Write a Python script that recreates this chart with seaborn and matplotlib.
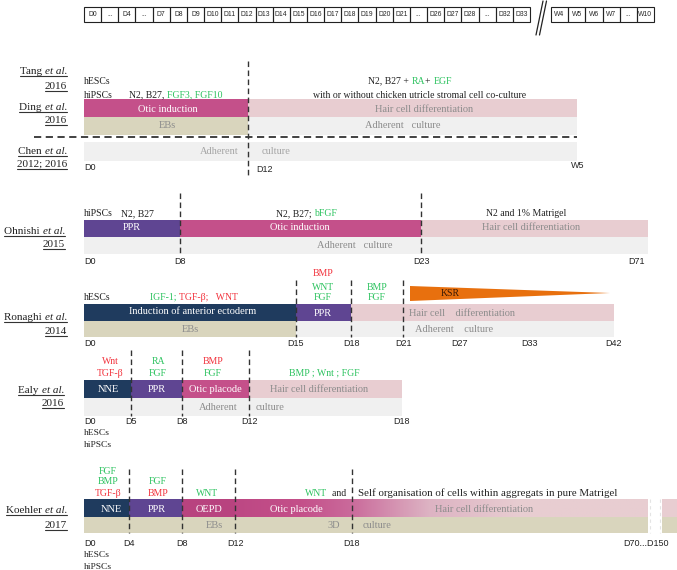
import numpy as np
import seaborn as sns
import matplotlib.pyplot as plt
from matplotlib.colors import LinearSegmentedColormap

sns.set_theme(style="white")
plt.rcParams['font.family'] = ['Liberation Serif', 'DejaVu Serif']

# ---- data ----
day_cells = ["D0", "...", "D4", "...", "D7", "D8", "D9", "D10", "D11", "D12", "D13",
             "D14", "D15", "D16", "D17", "D18", "D19", "D20", "D21", "...", "D26",
             "D27", "D28", "...", "D32", "D33"]
week_cells = ["W4", "W5", "W6", "W7", "...", "W10"]

# shared time axis position of every protocol's tick (diagram is not to scale)
tang_ticks = ["D0", "D12", "W5"]
tang_x = [84, 248, 577]
ding_top = ["Otic induction", "Hair cell differentiation"]
ding_bottom = ["EBs", "Adherent   culture"]

ohnishi_ticks = ["D0", "D8", "D23", "D71"]
ohnishi_x = [84, 180, 421, 648]
ohnishi_top = ["PPR", "Otic induction", "Hair cell differentiation"]

ronaghi_ticks = ["D0", "D15", "D18", "D21", "D27", "D33", "D42"]
ronaghi_x = [84, 296, 351, 403, 459, 529, 614]
ronaghi_top = ["Induction of anterior ectoderm", "PPR", "Hair cell    differentiation"]

ealy_ticks = ["D0", "D5", "D8", "D12", "D18"]
ealy_x = [84, 131, 182, 249, 402]
ealy_top = ["NNE", "PPR", "Otic placode", "Hair cell differentiation"]

koehler_ticks = ["D0", "D4", "D8", "D12", "D18", "D70...D150"]
koehler_x = [84, 129, 182, 235, 352, 677]
koehler_top = ["NNE", "PPR", "OEPD", "Otic placode", "Hair cell differentiation"]

NAVY = "#1F3B5E"
PURPLE = "#5F4592"
MAGENTA = "#C4508A"
OEPD = "#B8437F"
PINK = "#E8CDD1"
KHAKI = "#D9D5BD"
GREY = "#F0F0F0"
ORANGE = "#E8700E"
GREEN = "#2BC25E"
RED = "#F2323C"
TXT = "#8C8C8C"

fig = plt.figure(figsize=(6.77, 5.70), dpi=100)
ax = fig.add_axes([0, 0, 1, 1])
ax.set_xlim(0, 677)
ax.set_ylim(570, 0)
ax.axis('off')
renderer = fig.canvas.get_renderer()


def rich(x, y, parts, ha='left', size=7, va='center', underline=False):
    objs = []
    for s, c, st in parts:
        objs.append(ax.text(x, y, s, color=c, fontstyle=st, fontsize=size,
                            va=va, ha='left', zorder=5))
    widths = [t.get_window_extent(renderer).width for t in objs]
    total = sum(widths)
    start = {'left': x, 'center': x - total / 2, 'right': x - total}[ha]
    x0 = start
    for t, w in zip(objs, widths):
        t.set_x(start)
        start += w
    if underline:
        ax.plot([x0, x0 + total], [y + 1.8, y + 1.8], color='#333333', lw=0.8)


def author(name, year, y1, y2, right=67):
    rich(right, y1, [(name + " ", '#222222', 'normal'), ("et al.", '#222222', 'italic')],
         ha='right', size=8, va='baseline', underline=True)
    rich(right, y2, [(year, '#222222', 'normal')], ha='right', size=8,
         va='baseline', underline=True)


def seg(x0, x1, y0, y1, color, z=1):
    ax.barh((y0 + y1) / 2, x1 - x0, left=x0, height=y1 - y0, color=color,
            linewidth=0, zorder=z)


def label(x, y, s, color=TXT, size=7.5, ha='center'):
    ax.text(x, y, s, color=color, fontsize=size, ha=ha, va='center', zorder=6)


def dashes(xs, y0, y1):
    ax.vlines(xs, y0, y1, colors='#333333', linestyles=(0, (4, 2.5)), lw=1.0, zorder=7)


def ticks(labels, xs, y, has):
    for s, x, h in zip(labels, xs, has):
        ax.text(x, y, s, fontsize=6.5, family='Liberation Sans', color='#222222',
                ha=h, va='center')


# ---- header boxes ----
cw = (530 - 84) / len(day_cells)
ax.barh(np.full(len(day_cells), 14.5), cw, left=84 + cw * np.arange(len(day_cells)),
        height=15, fill=False, edgecolor='#222222', lw=0.8)
for i, s in enumerate(day_cells):
    ax.text(84 + cw * (i + 0.5), 15, s, fontsize=4.9, family='Liberation Sans',
            ha='center', va='center')
ww = (654 - 551) / len(week_cells)
ax.barh(np.full(len(week_cells), 14.5), ww, left=551 + ww * np.arange(len(week_cells)),
        height=15, fill=False, edgecolor='#222222', lw=0.8)
for i, s in enumerate(week_cells):
    ax.text(551 + ww * (i + 0.5), 15, s, fontsize=4.9, family='Liberation Sans',
            ha='center', va='center')
ax.plot([536, 543], [35, 1], color='#222222', lw=0.9)
ax.plot([539.5, 546.5], [35, 1], color='#222222', lw=0.9)

# ---- Tang / Ding / Chen ----
author("Tang", "2016", 74, 89)
author("Ding", "2016", 110, 123)
author("Chen", "2012; 2016", 154, 167)
rich(84, 81, [("hESCs", '#222222', 'normal')])
rich(84, 95, [("hiPSCs", '#222222', 'normal')])
rich(176, 95, [("N2, B27, ", '#222222', 'normal'), ("FGF3, FGF10", GREEN, 'normal')], ha='center')
rich(410, 81, [("N2, B27 + ", '#222222', 'normal'), ("RA", GREEN, 'normal'),
               ("+ ", '#222222', 'normal'), ("EGF", GREEN, 'normal')], ha='center')
rich(420, 95, [("with or without chicken utricle stromal cell co-culture", '#222222', 'normal')],
     ha='center')
seg(tang_x[0], tang_x[1], 99, 117, MAGENTA)
seg(tang_x[1], tang_x[2], 99, 117, PINK)
seg(tang_x[0], tang_x[1], 117, 135, KHAKI)
seg(tang_x[1], tang_x[2], 117, 135, GREY)
label(168, 109, ding_top[0], 'white')
label(424, 109, ding_top[1])
label(167, 126, ding_bottom[0])
label(403, 126, ding_bottom[1])
ax.hlines(137, 34, 577, colors='#333333', linestyles=(0, (4, 2.5)), lw=1.3)
seg(tang_x[0], tang_x[2], 142, 161, GREY)
label(239, 151, "Adherent", '#A5A5A5', ha='right')
label(262, 151, "culture", '#A5A5A5', ha='left')
dashes([tang_x[1]], 61, 177)
ax.text(84, 168, tang_ticks[0], fontsize=6.5, family='Liberation Sans', ha='left', va='center')
ax.text(256, 170, tang_ticks[1], fontsize=6.5, family='Liberation Sans', ha='left', va='center')
ax.text(578, 166, tang_ticks[2], fontsize=6.5, family='Liberation Sans', ha='center', va='center')

# ---- Ohnishi ----
author("Ohnishi", "2015", 234, 247, right=65)
rich(84, 214, [("hiPSCs", '#222222', 'normal')])
rich(121, 214, [("N2, B27", '#222222', 'normal')])
rich(306, 214, [("N2, B27; ", '#222222', 'normal'), ("bFGF", GREEN, 'normal')], ha='center')
rich(526, 214, [("N2 and 1% Matrigel", '#222222', 'normal')], ha='center')
top_cols = [PURPLE, MAGENTA, PINK]
for i, (s, c) in enumerate(zip(ohnishi_top, top_cols)):
    seg(ohnishi_x[i], ohnishi_x[i + 1], 220, 237, c)
seg(ohnishi_x[0], ohnishi_x[-1], 237, 254, GREY)
label(132, 228, ohnishi_top[0], 'white')
label(300, 228, ohnishi_top[1], 'white')
label(531, 228, ohnishi_top[2])
label(355, 246, "Adherent   culture")
dashes(ohnishi_x[1:3], 193, 254)
ticks(ohnishi_ticks, ohnishi_x[:3] + [645], 262, ['left', 'center', 'center', 'right'])

# ---- Ronaghi ----
author("Ronaghi", "2014", 320, 334)
rich(84, 297, [("hESCs", '#222222', 'normal')])
rich(194, 297, [("IGF-1; ", GREEN, 'normal'), ("TGF-β;   WNT", RED, 'normal')], ha='center')
for s, c, yy in [("BMP", RED, 274), ("WNT", GREEN, 287), ("FGF", GREEN, 298)]:
    label(323, yy, s, c, size=7)
for s, yy in [("BMP", 287), ("FGF", 298)]:
    label(377, yy, s, GREEN, size=7)
ax.fill([410, 410, 610], [286, 301, 293], color=ORANGE, lw=0, zorder=3)
label(450, 293.5, "KSR", '#3A1A05', size=7)
for i, c in enumerate([NAVY, PURPLE]):
    seg(ronaghi_x[i], ronaghi_x[i + 1], 304, 321, c)
seg(ronaghi_x[2], ronaghi_x[-1], 304, 321, PINK)
seg(ronaghi_x[0], ronaghi_x[1], 321, 337, KHAKI)
seg(ronaghi_x[1], ronaghi_x[-1], 321, 337, GREY)
label(193, 312, ronaghi_top[0], 'white')
label(323, 313, ronaghi_top[1], 'white')
label(409, 313, ronaghi_top[2], ha='left')
label(190, 329, "EBs")
label(415, 330, "Adherent    culture", ha='left')
dashes(ronaghi_x[1:4], 280, 337)
ticks(ronaghi_ticks, ronaghi_x, 344, ['left'] + ['center'] * 6)

# ---- Ealy ----
author("Ealy", "2016", 393, 406, right=64)
for s, c, xx, yy in [("Wnt", RED, 110, 361), ("TGF-β", RED, 110, 373),
                     ("RA", GREEN, 158, 362), ("FGF", GREEN, 158, 373),
                     ("BMP", RED, 213, 362), ("FGF", GREEN, 213, 373)]:
    label(xx, yy, s, c, size=7)
label(324, 373, "BMP ; Wnt ; FGF", GREEN, size=7)
for i, c in enumerate([NAVY, PURPLE, MAGENTA, PINK]):
    seg(ealy_x[i], ealy_x[i + 1], 380, 398, c)
seg(ealy_x[0], ealy_x[-1], 398, 416, GREY)
for s, xx, c in zip(ealy_top, [108, 157, 215, 319], ['white', 'white', 'white', TXT]):
    label(xx, 389, s, c)
label(218, 407, "Adherent")
label(270, 407, "culture")
dashes(ealy_x[1:4], 350, 416)
ticks(ealy_ticks, ealy_x, 422, ['left'] + ['center'] * 4)
rich(84, 433, [("hESCs", '#222222', 'normal')], size=6.8)
rich(84, 445, [("hiPSCs", '#222222', 'normal')], size=6.8)

# ---- Koehler ----
author("Koehler", "2017", 513, 528)
for s, c, xx, yy in [("FGF", GREEN, 108, 471), ("BMP", GREEN, 108, 482), ("TGF-β", RED, 108, 493),
                     ("FGF", GREEN, 158, 482), ("BMP", RED, 158, 493),
                     ("WNT", GREEN, 207, 493)]:
    label(xx, yy, s, c, size=7)
rich(346, 493, [("WNT", GREEN, 'normal'), ("  and", '#222222', 'normal')], ha='right')
rich(358, 493, [("Self organisation of cells within aggregats in pure Matrigel", '#222222', 'normal')],
     size=7.8)
for i, c in enumerate([NAVY, PURPLE, OEPD]):
    seg(koehler_x[i], koehler_x[i + 1], 499, 517, c)
grad = LinearSegmentedColormap.from_list(
    "otic", [(0, "#BD4884"), (0.16, "#C4508A"), (0.28, "#CA6A9B"),
             (0.47, "#DDB3C3"), (0.69, PINK), (1, PINK)])
ax.imshow(np.linspace(0, 1, 256)[None, :], cmap=grad, aspect='auto',
          extent=(koehler_x[3], 648, 517, 499), zorder=1)
seg(662, koehler_x[-1], 499, 517, PINK)
seg(koehler_x[0], 648, 517, 533, KHAKI)
seg(662, koehler_x[-1], 517, 533, KHAKI)
ax.vlines([650, 660], 499, 533, colors='#E4E4E4', linestyles=(0, (3, 3)), lw=0.8)
for s, xx, c in zip(koehler_top, [111, 157, 209, 296, 484],
                    ['white', 'white', 'white', 'white', TXT]):
    label(xx, 509, s, c)
label(214, 526, "EBs")
label(334, 526, "3D")
label(377, 526, "culture")
dashes(koehler_x[1:5], 469, 533)
ticks(koehler_ticks, koehler_x[:5] + [669], 543, ['left'] + ['center'] * 4 + ['right'])
rich(84, 555, [("hESCs", '#222222', 'normal')], size=6.8)
rich(84, 567, [("hiPSCs", '#222222', 'normal')], size=6.8)

plt.savefig("out.png", dpi=100)
